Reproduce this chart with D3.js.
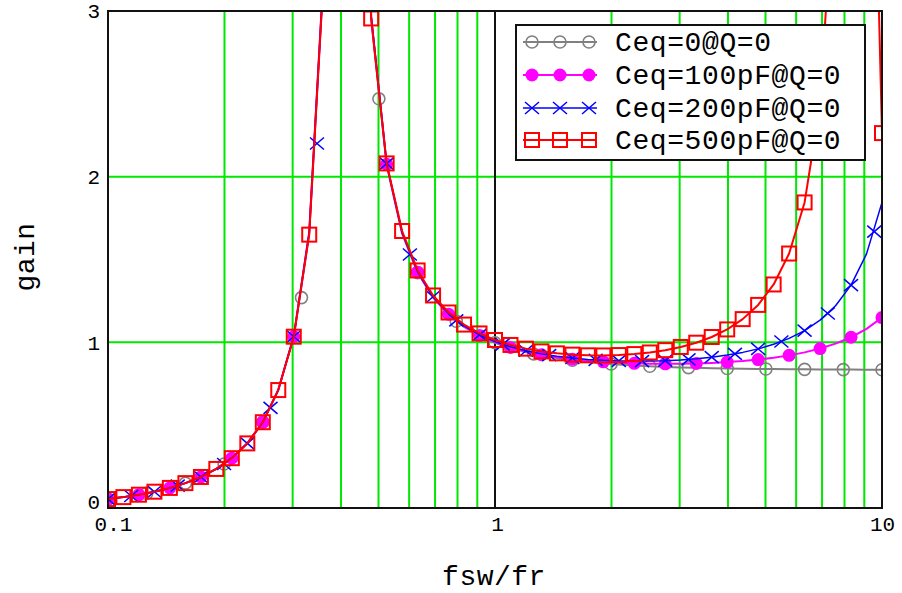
<!DOCTYPE html>
<html><head><meta charset="utf-8">
<script src="https://cdn.jsdelivr.net/npm/d3@7"></script>
<style>
body{margin:0;background:#fff}
svg{display:block}
text{font-family:"Liberation Mono","DejaVu Sans Mono",monospace;fill:#000}
</style>
</head><body>
<svg id="c" width="902" height="593"></svg>
<script>
// ---- data ----
const seriesNames = ["Ceq=0@Q=0", "Ceq=100pF@Q=0", "Ceq=200pF@Q=0", "Ceq=500pF@Q=0"];

// frequency grid used for the traces (fsw/fr)
const freq = [0.1, 0.1096, 0.1202, 0.1318, 0.1445, 0.1585, 0.1738, 0.1905, 0.2089, 0.2291,
  0.2512, 0.2754, 0.3020, 0.3311, 0.3631, 0.3981, 0.4365, 0.4786, 0.5248, 0.5754,
  0.6310, 0.6918, 0.7586, 0.8318, 0.9120, 1.0, 1.0965, 1.2023, 1.3183, 1.4454,
  1.5849, 1.7378, 1.9055, 2.0893, 2.2909, 2.5119, 2.7542, 3.0200, 3.3113, 3.6308,
  3.9811, 4.3652, 4.7863, 5.2481, 5.7544, 6.3096, 6.9183, 7.5858, 8.3176, 9.1201, 10];

const gainGray = [0.0539, 0.0657, 0.0802, 0.0984, 0.1212, 0.1501, 0.1873, 0.2359, 0.3008, 0.3901,
  0.5181, 0.7125, 1.0356, 1.6633, 3.354, 21.67, 6.116, 2.960, 2.071, 1.657,
  1.4207, 1.2701, 1.1672, 1.0935, 1.0389, 0.9975, 0.9655, 0.9404, 0.9205, 0.9046,
  0.8918, 0.8814, 0.8729, 0.8660, 0.8603, 0.8557, 0.8518, 0.8487, 0.8460, 0.8439,
  0.8421, 0.8406, 0.8394, 0.8383, 0.8375, 0.8368, 0.8362, 0.8357, 0.8353, 0.8350, 0.8347];

const gainMag = [0.0539, 0.0657, 0.0802, 0.0984, 0.1212, 0.1501, 0.1873, 0.2359, 0.3008, 0.3901,
  0.5180, 0.7124, 1.0353, 1.6623, 3.349, 21.43, 6.139, 2.966, 2.075, 1.660,
  1.4233, 1.2726, 1.1697, 1.0962, 1.0419, 1.0008, 0.9692, 0.9446, 0.9254, 0.9102,
  0.8984, 0.8891, 0.8821, 0.8769, 0.8732, 0.8711, 0.8703, 0.8708, 0.8726, 0.8758,
  0.8806, 0.8872, 0.8959, 0.9070, 0.9213, 0.9394, 0.9626, 0.9922, 1.0307, 1.0813, 1.1494];

const gainBlue = [0.0539, 0.0657, 0.0802, 0.0984, 0.1212, 0.1501, 0.1873, 0.2359, 0.3008, 0.3901,
  0.5180, 0.7123, 1.0350, 1.6613, 3.344, 21.20, 6.163, 2.973, 2.079, 1.663,
  1.4259, 1.2752, 1.1723, 1.0989, 1.0448, 1.0041, 0.9729, 0.9489, 0.9303, 0.9160,
  0.9051, 0.8970, 0.8914, 0.8880, 0.8866, 0.8871, 0.8895, 0.8941, 0.9009, 0.9103,
  0.9229, 0.9393, 0.9605, 0.9880, 1.0237, 1.0708, 1.1339, 1.2209, 1.3453, 1.5338, 1.8449];

const gainRed = [0.0539, 0.0657, 0.0802, 0.0984, 0.1212, 0.1501, 0.1873, 0.2358, 0.3007, 0.3900,
  0.5178, 0.7119, 1.0340, 1.650, 3.329, 20.52, 6.235, 2.955, 2.080, 1.672,
  1.4340, 1.2829, 1.1802, 1.1072, 1.0538, 1.0141, 0.9842, 0.9619, 0.9453, 0.9335,
  0.9258, 0.9216, 0.9208, 0.9232, 0.9291, 0.9388, 0.9528, 0.9720, 0.9978, 1.0322,
  1.0780, 1.1401, 1.2260, 1.3493, 1.5361, 1.8445, 2.434, 3.955, 15.99, 6.007, 2.263];

// marker positions of each trace
const markFreqGray = [0.1, 0.1259, 0.1585, 0.1995, 0.2512, 0.3162, 0.3981, 0.5012, 0.6310, 0.7943,
  1.0, 1.2589, 1.5849, 1.9953, 2.5119, 3.1623, 3.9811, 5.0119, 6.3096, 7.9433, 10];
const markGainGray = [0.0539, 0.0888, 0.1501, 0.2659, 0.5181, 1.27, 21.7, 2.47, 1.4207, 1.1274,
  0.9975, 0.9299, 0.8918, 0.8693, 0.8557, 0.8473, 0.8421, 0.8388, 0.8368, 0.8355, 0.8347];

const markFreqMag = [0.1, 0.1202, 0.1445, 0.1738, 0.2089, 0.2512, 0.3020, 0.3631, 0.4365, 0.5248,
  0.6310, 0.7586, 0.9120, 1.0965, 1.3183, 1.5849, 1.9055, 2.2909, 2.7542, 3.3113,
  3.9811, 4.7863, 5.7544, 6.9183, 8.3176, 10];
const markGainMag = [0.0539, 0.0802, 0.1212, 0.1873, 0.3008, 0.5180, 1.0353, 3.349, 6.139, 2.075,
  1.4233, 1.1697, 1.0419, 0.9692, 0.9254, 0.8984, 0.8821, 0.8732, 0.8703, 0.8726,
  0.8806, 0.8959, 0.9213, 0.9626, 1.0307, 1.1494];

const markFreqBlue = [0.1, 0.1148, 0.1318, 0.1514, 0.1738, 0.1995, 0.2291, 0.2630, 0.3020, 0.3467,
  0.3981, 0.4571, 0.5248, 0.6026, 0.6918, 0.7943, 0.9120, 1.0471, 1.2023, 1.3804,
  1.5849, 1.8197, 2.0893, 2.3988, 2.7542, 3.1623, 3.6308, 4.1687, 4.7863, 5.4954,
  6.3096, 7.2444, 8.3176, 9.5499];
const markGainBlue = [0.0539, 0.0726, 0.0984, 0.1348, 0.1873, 0.2659, 0.3901, 0.6042, 1.0350, 2.20,
  21.2, 3.947, 2.079, 1.530, 1.2752, 1.1327, 1.0448, 0.9875, 0.9489, 0.9226,
  0.9051, 0.8939, 0.8880, 0.8866, 0.8895, 0.8971, 0.9103, 0.9306, 0.9605, 1.0047,
  1.0708, 1.1738, 1.3454, 1.6679];

const markFreqRed = freq;
const markGainRed = gainRed;

const xTickValues = [0.1, 1, 10];
const xTickLabels = ["0.1", "1", "10"];
const yTickValues = [0, 1, 2, 3];
const yTickLabels = ["0", "1", "2", "3"];
const xGridValues = [0.2, 0.3, 0.4, 0.5, 0.6, 0.7, 0.8, 0.9, 2, 3, 4, 5, 6, 7, 8, 9];
const yGridValues = [1, 2];
const xTitle = "fsw/fr";
const yTitle = "gain";

// ---- drawing ----
const L = 108, R = 882, T = 11, B = 508;
const x = d3.scaleLog().domain([0.1, 10]).range([L, R]);
const y = d3.scaleLinear().domain([0, 3]).range([B, T]);
const svg = d3.select("#c");

svg.append("defs").append("clipPath").attr("id", "clip")
  .append("rect").attr("x", L).attr("y", T).attr("width", R - L).attr("height", B - T);

const GREEN = "#00e800";
svg.append("g").selectAll("line").data(xGridValues).join("line")
  .attr("x1", d => x(d)).attr("x2", d => x(d)).attr("y1", T).attr("y2", B)
  .attr("stroke", GREEN).attr("stroke-width", 2);
svg.append("g").selectAll("line").data(yGridValues).join("line")
  .attr("x1", L).attr("x2", R).attr("y1", d => y(d)).attr("y2", d => y(d))
  .attr("stroke", GREEN).attr("stroke-width", 2);
svg.append("line").attr("x1", x(1)).attr("x2", x(1)).attr("y1", T).attr("y2", B)
  .attr("stroke", "#111").attr("stroke-width", 2);

const styles = [
  {color: "#808080", width: 2, marker: "circle"},
  {color: "#ff00ff", width: 2, marker: "dot"},
  {color: "#0000ff", width: 1.5, marker: "cross"},
  {color: "#ff0000", width: 2, marker: "square"}
];
const lineData = [gainGray, gainMag, gainBlue, gainRed].map(g => freq.map((f, i) => [f, g[i]]));
const markData = [
  markFreqGray.map((f, i) => [f, markGainGray[i]]),
  markFreqMag.map((f, i) => [f, markGainMag[i]]),
  markFreqBlue.map((f, i) => [f, markGainBlue[i]]),
  markFreqRed.map((f, i) => [f, markGainRed[i]])
];

function drawMarker(g, type, color, cx, cy) {
  if (type === "circle") {
    g.append("circle").attr("cx", cx).attr("cy", cy).attr("r", 6)
      .attr("fill", "none").attr("stroke", color).attr("stroke-width", 1.6);
  } else if (type === "dot") {
    g.append("circle").attr("cx", cx).attr("cy", cy).attr("r", 6.5)
      .attr("fill", color).attr("stroke", "none");
  } else if (type === "cross") {
    g.append("path").attr("d", `M${cx-7},${cy-6}L${cx+7},${cy+6}M${cx-7},${cy+6}L${cx+7},${cy-6}`)
      .attr("fill", "none").attr("stroke", color).attr("stroke-width", 1.5);
  } else {
    g.append("rect").attr("x", cx - 7).attr("y", cy - 7).attr("width", 14).attr("height", 14)
      .attr("fill", "none").attr("stroke", color).attr("stroke-width", 2);
  }
}

const plot = svg.append("g").attr("clip-path", "url(#clip)");
const lineGen = d3.line().x(d => x(d[0])).y(d => y(d[1]));
styles.forEach((s, k) => {
  const g = plot.append("g");
  g.append("path").attr("d", lineGen(lineData[k])).attr("fill", "none")
    .attr("stroke", s.color).attr("stroke-width", s.width).attr("stroke-linejoin", "round");
  markData[k].forEach(d => {
    if (d[1] <= 3.1) drawMarker(g, s.marker, s.color, x(d[0]), y(d[1]));
  });
});

// frame
svg.append("rect").attr("x", L).attr("y", T).attr("width", R - L).attr("height", B - T)
  .attr("fill", "none").attr("stroke", "#111").attr("stroke-width", 2);

// axes (labels only)
const xAxis = d3.axisBottom(x).tickValues(xTickValues)
  .tickFormat((d, i) => xTickLabels[i]).tickSize(0).tickPadding(8);
const gx = svg.append("g").attr("transform", `translate(0,${B})`).call(xAxis);
gx.select(".domain").remove();
gx.selectAll("text").style("font-size", "21px").style("font-family", "Liberation Mono")
  .attr("dx", (d, i) => i === 0 ? 5 : (i === 1 ? 2 : 0));

const yAxis = d3.axisLeft(y).tickValues(yTickValues)
  .tickFormat((d, i) => yTickLabels[i]).tickSize(0).tickPadding(8);
const gy = svg.append("g").attr("transform", `translate(${L},0)`).call(yAxis);
gy.select(".domain").remove();
gy.selectAll("text").style("font-size", "21px").style("font-family", "Liberation Mono")
  .attr("dy", (d, i) => i === 0 ? "0.02em" : "0.32em");

svg.append("text").attr("x", 494).attr("y", 585).attr("text-anchor", "middle")
  .style("font-size", "28px").style("letter-spacing", "0.5px").text(xTitle);
svg.append("text").attr("transform", "translate(34,257) rotate(-90)").attr("text-anchor", "middle")
  .style("font-size", "28px").style("letter-spacing", "0.5px").text(yTitle);

// legend
const lg = svg.append("g");
lg.append("rect").attr("x", 516).attr("y", 25).attr("width", 349).attr("height", 135)
  .attr("fill", "#fff").attr("stroke", "#111").attr("stroke-width", 2);
const rowY = [42, 75, 108, 140];
seriesNames.forEach((name, k) => {
  const s = styles[k], cy = rowY[k];
  lg.append("line").attr("x1", 523).attr("x2", 597).attr("y1", cy).attr("y2", cy)
    .attr("stroke", s.color).attr("stroke-width", s.width);
  [532, 560, 589].forEach(cx => drawMarker(lg, s.marker, s.color, cx, cy));
  lg.append("text").attr("x", 615).attr("y", cy + 9).style("font-size", "28px")
    .style("letter-spacing", "0.6px").text(name);
});
</script>
</body></html>
